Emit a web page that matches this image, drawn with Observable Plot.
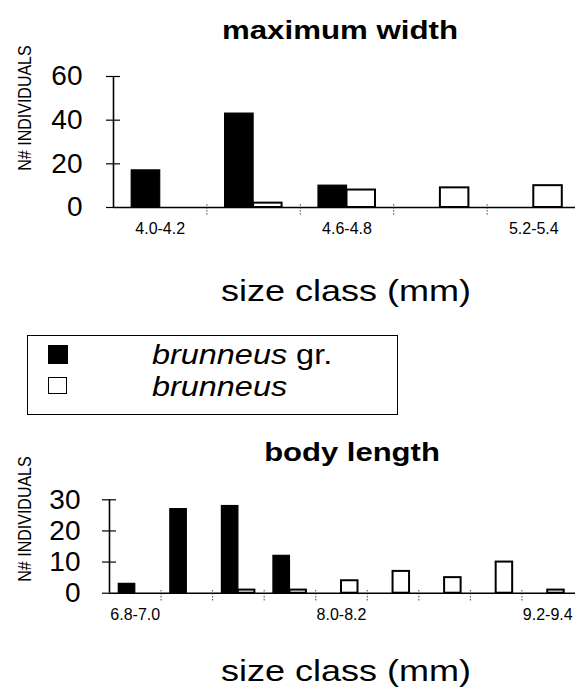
<!DOCTYPE html>
<html>
<head>
<meta charset="utf-8">
<script src="https://cdn.jsdelivr.net/npm/d3@7"></script>
<script src="https://cdn.jsdelivr.net/npm/@observablehq/plot@0.6"></script>
<style>
  body { margin: 0; background: #fff; }
  #page { position: relative; width: 575px; height: 691px; overflow: hidden;
          font-family: "Liberation Sans", Arial, Helvetica, sans-serif; color: #000; background: #fff; }
  .t { position: absolute; white-space: nowrap; line-height: 1; }
  .plotbox { position: absolute; left: 0; }
  .plotbox svg { overflow: visible; }
</style>
</head>
<body>
<div id="page"></div>
<script>
// ---------- data ----------
const series = ["brunneus gr.", "brunneus"];
const seriesFill = ["black", "white"];

const titles = ["maximum width", "body length"];
const yLabel = "N# INDIVIDUALS";
const xLabel = "size class (mm)";

const widthClasses = ["4.0-4.2", "4.3-4.5", "4.6-4.8", "4.9-5.1", "5.2-5.4"];
const widthGr = [17, 43, 10, 0, 0];
const widthBr = [0, 2, 8, 9, 10];
const widthTickLabels = ["4.0-4.2", "4.6-4.8", "5.2-5.4"];
const widthYTicks = [0, 20, 40, 60];

const lengthClasses = ["6.8-7.0", "7.1-7.3", "7.4-7.6", "7.7-7.9", "8.0-8.2", "8.3-8.5", "8.6-8.8", "8.9-9.1", "9.2-9.4"];
const lengthGr = [3, 27, 28, 12, 0, 0, 0, 0, 0];
const lengthBr = [0, 0, 1, 1, 4, 7, 5, 10, 1];
const lengthTickLabels = ["6.8-7.0", "8.0-8.2", "9.2-9.4"];
const lengthYTicks = [0, 10, 20, 30];

// ---------- helpers ----------
const page = document.getElementById("page");
const FONT = "Liberation Sans, Arial, Helvetica, sans-serif";

function addText(html, o) {
  const d = document.createElement("div");
  d.className = "t";
  d.innerHTML = html;
  d.style.fontSize = o.size + "px";
  d.style.fontWeight = o.weight || "normal";
  if (o.italic) d.style.fontStyle = "italic";
  d.style.top = (o.baseline - 0.8465 * o.size) + "px";
  const sx = o.sx || 1;
  if (o.cx !== undefined) {
    d.style.left = o.cx + "px";
    d.style.transform = `translateX(-50%) scaleX(${sx})`;
  } else {
    d.style.left = o.left + "px";
    d.style.transformOrigin = "left center";
    d.style.transform = `scaleX(${sx})`;
  }
  page.appendChild(d);
  return d;
}

function addRotated(txt, cx, cy, size, sx) {
  const d = document.createElement("div");
  d.className = "t";
  d.textContent = txt;
  d.style.fontSize = size + "px";
  d.style.left = cx + "px";
  d.style.top = cy + "px";
  d.style.transform = `translate(-50%,-50%) scaleX(${sx}) rotate(-90deg)`;
  page.appendChild(d);
}

function chart(o) {
  const n = o.classes.length;
  const rows = o.classes.flatMap((c, i) => [
    {i, cls: c, s: 0, v: o.gr[i]},
    {i, cls: c, s: 1, v: o.br[i]}
  ]).filter(d => d.v > 0);
  const yMax = o.yTicks[o.yTicks.length - 1];
  const tickPos = o.tickLabels.map(l => o.classes.indexOf(l) + 0.5);
  const plot = Plot.plot({
    width: 575,
    height: o.height,
    marginLeft: o.rangeX[0],
    marginRight: 0,
    marginTop: o.mt,
    marginBottom: o.mb,
    style: {fontFamily: FONT, color: "black", background: "transparent", overflow: "visible"},
    x: {domain: [0, n], range: o.rangeX},
    y: {domain: [0, yMax]},
    marks: [
      // bars
      Plot.rect(rows.filter(d => d.s === 0), {
        x1: d => d.i + 0.5 - o.barW, x2: d => d.i + 0.5, y1: 0, y2: "v",
        fill: seriesFill[0], stroke: "black", strokeWidth: 1.2
      }),
      Plot.rect(rows.filter(d => d.s === 1), {
        x1: d => d.i + 0.5, x2: d => d.i + 0.5 + o.barW, y1: 0, y2: "v",
        fill: seriesFill[1], stroke: "black", strokeWidth: 2
      }),
      // category boundary marks on the baseline
      Plot.ruleX(d3.range(1, n), {y1: o.bLo, y2: o.bHi, stroke: "#444", strokeWidth: 1, strokeDasharray: "1.5,1.5"}),
      // baseline and y axis line
      Plot.ruleY([0], {x1: 0, x2: n + 0.3, stroke: "black", strokeWidth: 1.6}),
      Plot.ruleX([0], {y1: 0, y2: yMax, stroke: "black", strokeWidth: 1.6}),
      // inner half of the cross tick marks
      Plot.ruleY(o.yTicks.filter(v => v > 0), {x1: 0, x2: o.tickIn, stroke: "black", strokeWidth: 1.2}),
      Plot.axisY(o.yTicks, {anchor: "left", tickSize: 7, tickPadding: o.yPad, fontSize: o.yFont,
        label: null, stroke: "black", strokeWidth: 1.2}),
      Plot.axisX(tickPos, {anchor: "bottom", tickSize: 0, tickPadding: o.xPad, fontSize: o.xFont,
        label: null, tickFormat: d => o.classes[Math.round(d - 0.5)]})
    ]
  });
  const box = document.createElement("div");
  box.className = "plotbox";
  box.style.top = o.top + "px";
  box.appendChild(plot);
  page.appendChild(box);
}

// ---------- top panel: maximum width ----------
chart({
  classes: widthClasses, gr: widthGr, br: widthBr, tickLabels: widthTickLabels, yTicks: widthYTicks,
  top: 60, height: 190, mt: 16, mb: 43, rangeX: [113, 580], barW: 0.305, tickIn: 0.075,
  bLo: -3.5, bHi: 1.8, yPad: 24, yFont: 28, xPad: 15, xFont: 16
});
addText(titles[0], {cx: 340, baseline: 39, size: 25, weight: "bold", sx: 1.25});
addText(xLabel, {cx: 346, baseline: 301, size: 30, sx: 1.2});
addRotated(yLabel, 25, 108, 16, 1.2);

// ---------- legend ----------
const lg = document.createElement("div");
lg.style.cssText = "position:absolute;left:27px;top:335px;width:369px;height:78px;border:1.5px solid #000;";
page.appendChild(lg);
const sq1 = document.createElement("div");
sq1.style.cssText = `position:absolute;left:48px;top:345px;width:20px;height:19px;background:${seriesFill[0]};`;
page.appendChild(sq1);
const sq2 = document.createElement("div");
sq2.style.cssText = `position:absolute;left:48px;top:377px;width:17px;height:15px;background:${seriesFill[1]};border:1.5px solid #000;`;
page.appendChild(sq2);
series.forEach((s, k) => {
  const html = s.replace(/^(\S+)/, "<i>$1</i>");
  addText(html, {left: 152, baseline: k === 0 ? 365 : 397, size: 27, sx: 1.2});
});

// ---------- bottom panel: body length ----------
chart({
  classes: lengthClasses, gr: lengthGr, br: lengthBr, tickLabels: lengthTickLabels, yTicks: lengthYTicks,
  top: 480, height: 150, mt: 19.3, mb: 37.3, rangeX: [109, 573], barW: 0.32, tickIn: 0.135,
  bLo: -2.5, bHi: 1.2, yPad: 22, yFont: 28, xPad: 15, xFont: 16
});
addText(titles[1], {cx: 352, baseline: 461, size: 25, weight: "bold", sx: 1.24});
addText(xLabel, {cx: 346, baseline: 681, size: 30, sx: 1.2});
addRotated(yLabel, 25, 519, 16, 1.2);
</script>
</body>
</html>
